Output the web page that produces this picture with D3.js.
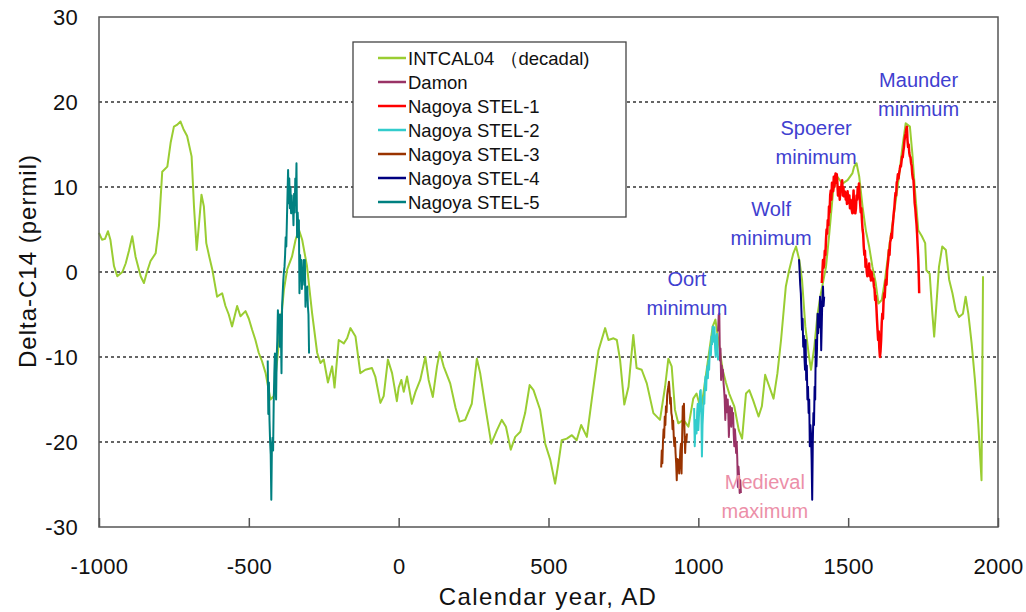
<!DOCTYPE html>
<meta charset="utf-8">
<script src="https://d3js.org/d3.v7.min.js"></script>
<style>
  body { margin: 0; background: #fff; }
  text { font-family: "Liberation Sans", Arial, sans-serif; }
</style>
<div id="chart"></div>
<script>

// INTCAL04 decadal curve [year, delta-C14 permil]
var intcal04 = [
  [-1000,4.6],[-990,3.8],[-980,3.9],[-970,4.8],[-962,3.8],[-950,0.7],[-939,-0.5],[-922,0],[-911,1],[-900,2.5],
  [-889,4.2],[-878,1.8],[-861,-0.5],[-850,-1.3],[-840,0],[-828,1.3],[-811,2.2],[-800,5.4],[-789,11.8],[-772,12.4],
  [-761,15.2],[-750,17.1],[-740,17.3],[-728,17.7],[-718,16.8],[-706,16],[-691,13.6],[-683,7.7],[-674,2.6],[-667,5.4],
  [-658,9.1],[-650,7.7],[-642,3.4],[-632,1.8],[-622,0.3],[-606,-2.9],[-589,-2.5],[-578,-4],[-567,-5],[-556,-6.4],
  [-539,-4],[-528,-5.2],[-511,-4.6],[-500,-5.5],[-489,-6.8],[-478,-8],[-467,-9.5],[-456,-10.5],[-444,-11.9],[-428,-15],
  [-417,-14.6],[-400,-8.4],[-383,-2.1],[-372,0.3],[-356,1.8],[-344,3.8],[-333,5],[-322,3.8],[-306,0.7],[-289,-4.8],
  [-272,-9.5],[-261,-10.7],[-250,-10.3],[-236,-13],[-222,-11.1],[-214,-13.6],[-200,-8],[-183,-8.4],[-172,-7.8],[-161,-6.6],
  [-144,-7.6],[-128,-11.9],[-111,-11.5],[-89,-11.3],[-78,-12.3],[-61,-15.4],[-50,-14.6],[-36,-10.3],[-22,-11.9],[-6,-15.2],
  [0,-13.6],[9,-12.7],[17,-14.1],[28,-12.3],[44,-15.5],[56,-14.1],[72,-12.7],[89,-10],[100,-12.7],[114,-14.7],
  [128,-11.1],[137,-9.4],[150,-11.1],[172,-13.1],[190,-16],[203,-17.6],[222,-17.4],[244,-15.5],[261,-10.2],[272,-11.9],
  [289,-15.8],[309,-20.2],[328,-18.6],[344,-17.4],[358,-18.2],[374,-20.9],[389,-19.4],[406,-18.8],[422,-16.6],[437,-13.3],
  [450,-13.9],[472,-16.2],[489,-20.2],[506,-22.1],[522,-24.9],[533,-22.5],[544,-19.8],[561,-19.6],[578,-19.2],[594,-19.8],
  [609,-18],[628,-19.4],[644,-15.1],[656,-12],[667,-9.2],[689,-6.6],[700,-8],[717,-7.8],[728,-8],[739,-10.4],
  [753,-15.6],[767,-13.5],[783,-7.4],[794,-11.3],[811,-11.5],[828,-13.1],[850,-16.6],[872,-17.4],[889,-13.5],[900,-10.2],
  [911,-11.1],[922,-16.2],[933,-17.8],[950,-17.4],[967,-18.2],[983,-14.9],[994,-14.3],[1009,-16.2],[1020,-13.5],[1031,-10.7],
  [1048,-6.4],[1057,-5.6],[1070,-8.8],[1081,-11.5],[1092,-13],[1103,-14.3],[1120,-15.8],[1135,-18.6],[1146,-19.6],[1159,-14.3],
  [1170,-13.9],[1183,-15.1],[1201,-17],[1212,-15.8],[1223,-12.1],[1237,-13.5],[1251,-14.9],[1264,-11.9],[1276,-8],[1292,-1.7],
  [1303,0.2],[1317,2.2],[1326,3],[1337,1.4],[1346,-0.9],[1357,-6.4],[1368,-9.6],[1376,-11.5],[1387,-8.8],[1398,-4.9],
  [1409,-2.5],[1426,0.6],[1437,4.5],[1450,9.6],[1464,11.2],[1481,10.4],[1498,10.8],[1514,11.6],[1520,12.4],[1528,12.8],
  [1537,11.2],[1548,7.7],[1559,4.9],[1570,3],[1581,0.6],[1592,-1.3],[1601,-3.7],[1612,-3.3],[1623,-0.9],[1637,3],
  [1653,6.9],[1668,10.8],[1681,14.7],[1692,17.5],[1706,17.1],[1714,14],[1723,9.6],[1734,4.9],[1746,4.2],[1757,3.4],
  [1761,0.2],[1772,-0.2],[1781,-4.9],[1787,-7.6],[1794,-4.1],[1803,0.6],[1814,3],[1826,2.6],[1837,-0.9],[1848,-2.5],
  [1859,-4.5],[1870,-5.3],[1883,-4.9],[1892,-2.9],[1901,-4.9],[1912,-8.4],[1923,-12.7],[1934,-17.8],[1945,-24.5],[1950,-0.5]
];

var damon = [
  [1066,-7],[1068,-5],[1070,-4.9],[1072,-10.4],[1074,-9],[1076,-12.7],[1078,-11],[1080,-12],[1082,-11.5],[1084,-13],
  [1086,-13.9],[1088,-15],[1090,-17.4],[1092,-14.5],[1094,-15.5],[1096,-16.5],[1098,-15],[1100,-16.6],[1102,-19.4],[1104,-17],
  [1106,-15.8],[1108,-16.5],[1110,-18.2],[1112,-16],[1114,-17.5],[1116,-16.6],[1118,-19],[1120,-20.5],[1122,-18.5],[1124,-19.5],
  [1126,-21.3],[1128,-20],[1130,-22],[1132,-25.3],[1134,-22.9],[1136,-24],[1138,-26],[1140,-24.5],[1142,-26]
];

var stel1 = [
  [1412,-1.3],[1414,0],[1416,1.4],[1418,0.5],[1420,1],[1422,2.5],[1424,2],[1426,3.8],[1428,5],[1430,4.5],
  [1432,6.1],[1434,5.5],[1436,7.7],[1438,7],[1440,9],[1442,9.6],[1444,8.5],[1446,10.5],[1448,10.4],[1450,9.5],
  [1452,11.2],[1454,10],[1456,11],[1458,11.6],[1460,10.5],[1462,11.5],[1464,10.5],[1466,9],[1468,10],[1470,9.6],
  [1472,8.5],[1474,10],[1476,9.5],[1478,10.5],[1480,10.8],[1482,9],[1484,10],[1486,8.9],[1488,9.5],[1490,9.3],
  [1492,8.5],[1494,9.3],[1496,8],[1498,9.5],[1500,8.5],[1502,8.1],[1504,9],[1506,7.5],[1508,8.5],[1510,7.8],
  [1512,7.3],[1514,6.9],[1516,8],[1518,9.6],[1520,7],[1522,8],[1524,6.9],[1526,7.5],[1528,9],[1530,8.5],
  [1532,10],[1534,9],[1536,10.4],[1538,9],[1540,8],[1542,7],[1544,7.5],[1546,6.1],[1548,5],[1550,4.5],
  [1552,3],[1554,2],[1556,2.5],[1558,0.6],[1560,1.5],[1562,0],[1564,-0.5],[1566,0.5],[1568,0],[1570,1],
  [1572,-0.5],[1574,0.2],[1576,-1],[1578,0],[1580,-0.5],[1582,-1],[1584,-0.8],[1586,-1.7],[1588,-2],[1590,-3.3],
  [1592,-2.8],[1594,-4],[1596,-5.5],[1598,-6.8],[1600,-8],[1602,-7],[1604,-9],[1606,-10],[1608,-9.3],[1610,-8],
  [1612,-6],[1614,-4.9],[1616,-5.5],[1618,-3.5],[1620,-2.5],[1622,-3],[1624,-1.5],[1626,-0.9],[1628,-1.5],[1630,0.2],
  [1632,0.8],[1634,1.5],[1636,2.6],[1638,2],[1640,3.5],[1642,3.8],[1644,4.5],[1646,4],[1648,5.3],[1650,6],
  [1652,6.9],[1654,7.5],[1656,8.5],[1658,9.3],[1660,9],[1662,10.5],[1664,10.8],[1666,11.5],[1668,11],[1670,11.6],
  [1672,12],[1674,12.5],[1676,12.4],[1678,13],[1680,13.6],[1682,13.5],[1684,14.2],[1686,14.7],[1688,15.5],[1690,16],
  [1692,16.3],[1694,16.8],[1696,17.1],[1698,15.5],[1700,14.7],[1702,15],[1704,14],[1706,13.6],[1708,13.5],[1710,12.8],
  [1712,12.5],[1714,11.5],[1716,11],[1718,10.8],[1720,9.5],[1722,8.1],[1724,7.5],[1726,6.5],[1728,5.7],[1730,4.5],
  [1732,3],[1734,1.5],[1736,-0.9],[1737,-2.5]
];

var stel2 = [
  [986,-16],[988,-20.5],[990,-18],[992,-17.4],[994,-19],[996,-16.5],[998,-15.5],[1000,-18.6],[1002,-17],[1004,-16],
  [1006,-14],[1008,-13.9],[1010,-16.5],[1012,-21.7],[1014,-18],[1016,-16.5],[1018,-14.7],[1020,-15.5],[1022,-13],[1024,-12.3],
  [1026,-13.9],[1028,-12],[1030,-11.1],[1032,-12.5],[1034,-10.4],[1036,-11.5],[1038,-9.5],[1040,-8.8],[1042,-9.8],[1044,-7.6],
  [1046,-8.5],[1048,-6.4],[1050,-7],[1052,-8.2],[1054,-6.5],[1056,-9],[1058,-10],[1060,-8],[1062,-7.3],[1064,-9],[1066,-10.4]
];

var stel3 = [
  [876,-23],[878,-21],[880,-22.5],[882,-20],[884,-18.5],[886,-19.5],[888,-17],[890,-18],[892,-15.8],[894,-16.5],
  [896,-14.5],[898,-13.9],[900,-13.5],[902,-12.9],[904,-14],[906,-15.5],[908,-14.8],[910,-16.6],[912,-17],[914,-18.5],
  [916,-17.5],[918,-19.4],[920,-20.5],[922,-19.5],[924,-21.3],[926,-22.5],[928,-24.5],[930,-22],[932,-23],[934,-22.1],
  [936,-23.7],[938,-22.5],[940,-21],[942,-20.2],[944,-23.7],[946,-19.5],[948,-15.8],[950,-17.4],[952,-15.5],[954,-19],
  [956,-21.3],[958,-19.5],[960,-20],[962,-19]
];

var stel4 = [
  [1336,1.5],[1338,0],[1340,-1.5],[1342,-2.5],[1344,-4.5],[1346,-6.8],[1348,-5.5],[1350,-8.8],[1352,-7.5],[1354,-10],
  [1356,-11.5],[1358,-8],[1360,-12.7],[1362,-11],[1364,-15],[1366,-13.5],[1368,-16.6],[1370,-15],[1372,-20.5],[1374,-18],
  [1376,-19],[1378,-22],[1380,-26.8],[1382,-20],[1384,-16.6],[1386,-18],[1388,-13.5],[1390,-15],[1392,-8],[1394,-11.1],
  [1396,-9],[1398,-4.9],[1400,-7.2],[1402,-5],[1404,-6.5],[1406,-2.9],[1408,-4],[1410,-9.2],[1412,-6],[1414,-3],
  [1416,-1.7],[1418,-4],[1420,-2.9]
];

var stel5 = [
  [-437,-10.4],[-435,-16.7],[-433,-13],[-431,-17.5],[-429,-20],[-427,-21.5],[-425,-26.8],[-423,-20.5],[-421,-19.5],[-419,-21],
  [-417,-15.5],[-415,-12],[-413,-9.6],[-411,-13],[-409,-15],[-407,-10],[-405,-8],[-403,-4.5],[-401,-6.5],[-399,-5],
  [-397,-8.8],[-395,-5],[-393,-7],[-391,-11.9],[-389,-4],[-387,-2.5],[-385,-1],[-383,0],[-381,0.6],[-379,2],
  [-377,4.1],[-375,3],[-373,6],[-371,9],[-369,12],[-367,8.1],[-365,11],[-363,7.5],[-361,10],[-359,6.9],
  [-357,9],[-355,7],[-353,8.1],[-351,5.5],[-349,9.2],[-347,7],[-345,11],[-343,9],[-341,12.8],[-339,4.1],
  [-337,7],[-335,5],[-333,6.1],[-331,-2.5],[-329,2],[-327,-1],[-325,1.4],[-323,-2],[-321,0],[-319,-0.9],
  [-317,1.4],[-315,-1.5],[-313,1.4],[-311,-4.1],[-309,-2],[-307,-3],[-305,-1.7],[-303,-4],[-301,-5],[-299,-9.6]
];

var seriesNames = ["INTCAL04 （decadal)", "Damon", "Nagoya STEL-1", "Nagoya STEL-2", "Nagoya STEL-3", "Nagoya STEL-4", "Nagoya STEL-5"];
var seriesData = [intcal04, damon, stel1, stel2, stel3, stel4, stel5];
var seriesColors = ["#9acd32", "#993366", "#ff0000", "#33cccc", "#993300", "#000080", "#008080"];
var seriesWidths = [2, 2, 2.5, 2, 2, 2, 2];

var xTicks = [-1000, -500, 0, 500, 1000, 1500, 2000];
var yTicks = [-30, -20, -10, 0, 10, 20, 30];
var gridValues = [-20, -10, 0, 10, 20];

var annotations = [
  {lines: ["Maunder", "minimum"], year: 1735, value: 22.6, color: "#4040d0"},
  {lines: ["Spoerer", "minimum"], year: 1393, value: 16.9, color: "#4040d0"},
  {lines: ["Wolf", "minimum"], year: 1243, value: 7.4, color: "#4040d0"},
  {lines: ["Oort", "minimum"], year: 962, value: -0.8, color: "#4040d0"},
  {lines: ["Medieval", "maximum"], year: 1222, value: -24.7, color: "#ec8fa8"}
];

var width = 1026, height = 612;
var margin = {top: 17, right: 28, bottom: 85, left: 99};

var svg = d3.select("#chart").append("svg")
  .attr("width", width)
  .attr("height", height);

svg.append("rect").attr("width", width).attr("height", height).attr("fill", "#fff");

var x = d3.scaleLinear().domain([-1000, 2000]).range([margin.left, width - margin.right]);
var y = d3.scaleLinear().domain([-30, 30]).range([height - margin.bottom, margin.top]);

// dashed gridlines
svg.append("g").selectAll("line")
  .data(gridValues)
  .enter().append("line")
    .attr("x1", x(-1000)).attr("x2", x(2000))
    .attr("y1", function(d) { return y(d); })
    .attr("y2", function(d) { return y(d); })
    .attr("stroke", "#333")
    .attr("stroke-width", 1.3)
    .attr("stroke-dasharray", "3,3");

// the series
var line = d3.line()
  .x(function(d) { return x(d[0]); })
  .y(function(d) { return y(d[1]); });

svg.append("g").selectAll("path")
  .data(seriesData)
  .enter().append("path")
    .attr("d", line)
    .attr("fill", "none")
    .attr("stroke", function(d, i) { return seriesColors[i]; })
    .attr("stroke-width", function(d, i) { return seriesWidths[i]; })
    .attr("stroke-linejoin", "round");

// frame
svg.append("rect")
  .attr("x", x(-1000)).attr("y", y(30))
  .attr("width", x(2000) - x(-1000))
  .attr("height", y(-30) - y(30))
  .attr("fill", "none")
  .attr("stroke", "#555")
  .attr("stroke-width", 1.5);

var fmt = function(d) { return d < 0 ? "-" + Math.abs(d) : d; };

// X axis
var xAxis = svg.append("g")
  .attr("transform", "translate(0," + y(-30) + ")")
  .call(d3.axisBottom(x).tickValues(xTicks).tickSizeInner(-9).tickSizeOuter(0).tickPadding(31).tickFormat(fmt));
xAxis.select(".domain").remove();
xAxis.selectAll("line").attr("stroke", "#555").attr("stroke-width", 1.5);
xAxis.selectAll("text").attr("font-size", 22).attr("fill", "#111")
  .attr("font-family", "'Liberation Sans', Arial, sans-serif").attr("letter-spacing", "0.3px");

// Y axis
var yAxis = svg.append("g")
  .attr("transform", "translate(" + x(-1000) + ",0)")
  .call(d3.axisLeft(y).tickValues(yTicks).tickSize(0).tickPadding(21).tickFormat(fmt));
yAxis.select(".domain").remove();
yAxis.selectAll("text").attr("font-size", 22).attr("fill", "#111")
  .attr("font-family", "'Liberation Sans', Arial, sans-serif").attr("letter-spacing", "0.3px");

// axis titles
svg.append("text")
  .attr("x", 548)
  .attr("y", 605)
  .attr("text-anchor", "middle")
  .attr("font-size", 24)
  .attr("letter-spacing", "1.4px")
  .attr("fill", "#111")
  .text("Calendar year, AD");

svg.append("text")
  .attr("transform", "translate(36," + 261 + ") rotate(-90)")
  .attr("text-anchor", "middle")
  .attr("font-size", 24)
  .attr("letter-spacing", "1px")
  .attr("fill", "#111")
  .text("Delta-C14 (permil)");

// annotations
annotations.forEach(function(a) {
  a.lines.forEach(function(t, j) {
    svg.append("text")
      .attr("x", x(a.year))
      .attr("y", y(a.value) + 7 + j * 29)
      .attr("text-anchor", "middle")
      .attr("font-size", 20)
      .attr("fill", a.color)
      .text(t);
  });
});

// legend
var legend = svg.append("g").attr("transform", "translate(353,42)");
legend.append("rect")
  .attr("width", 273).attr("height", 175)
  .attr("fill", "#fff")
  .attr("stroke", "#444")
  .attr("stroke-width", 1.3);

var rows = legend.selectAll("g.row")
  .data(seriesNames)
  .enter().append("g")
    .attr("class", "row")
    .attr("transform", function(d, i) { return "translate(0," + (16 + i * 24) + ")"; });

rows.append("line")
  .attr("x1", 25).attr("x2", 53)
  .attr("stroke", function(d, i) { return seriesColors[i]; })
  .attr("stroke-width", 2.5);

rows.append("text")
  .attr("x", 55)
  .attr("y", 6.5)
  .attr("font-size", 18.5)
  .attr("fill", "#111")
  .text(function(d) { return d; });

</script>
